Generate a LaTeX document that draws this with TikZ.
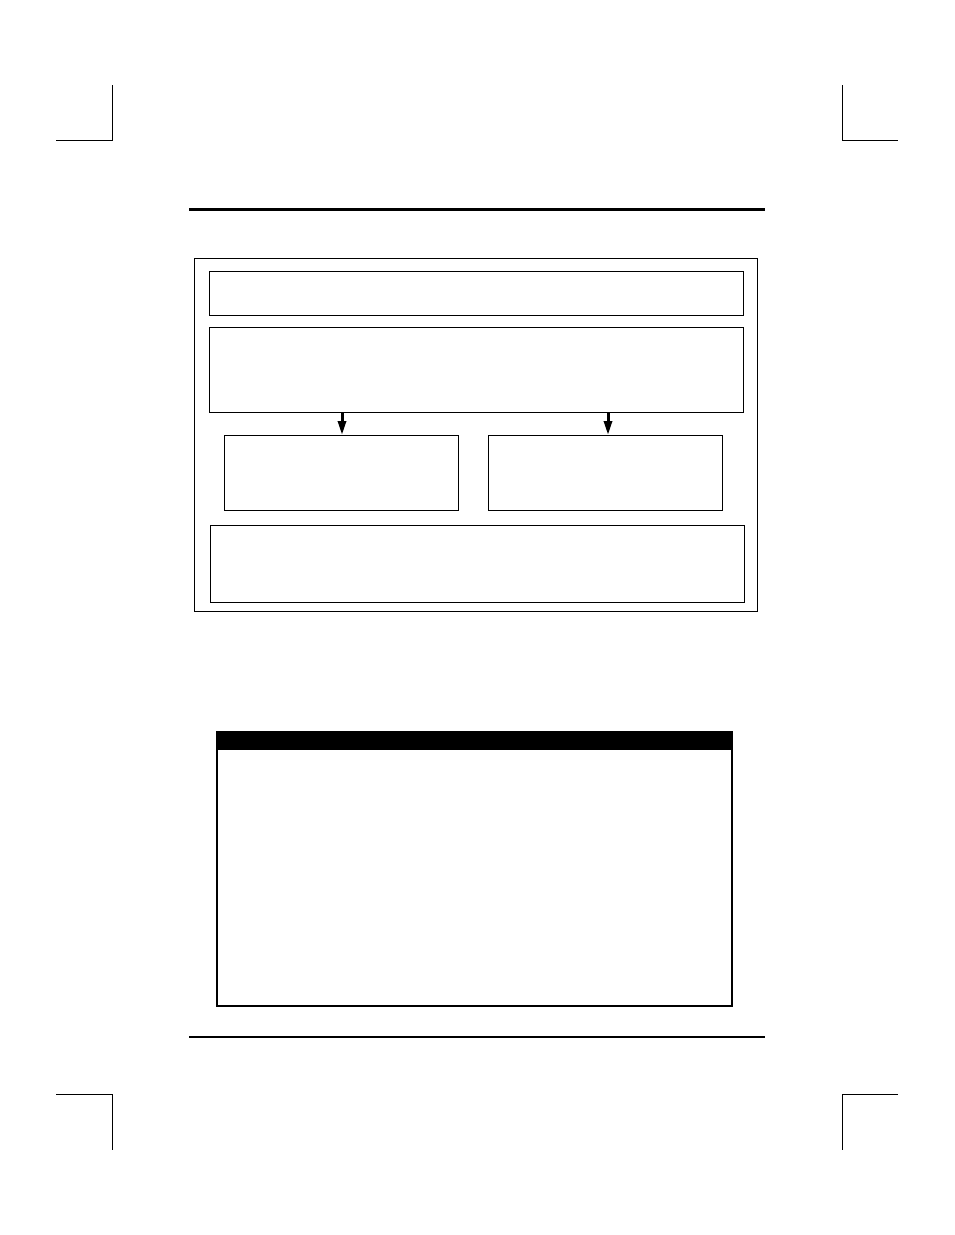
\documentclass[tikz,border=0pt]{standalone}
\usetikzlibrary{arrows.meta}
\begin{document}
\begin{tikzpicture}[x=1pt,y=-1pt,
  box/.style={draw=black,line width=1pt,inner sep=0pt,outer sep=0pt,fill=white},
  frame/.style={draw=black,line width=1pt,inner sep=0pt,outer sep=0pt},
  arr/.style={line width=3pt,-{Triangle[length=14pt,width=8pt]}},
  cropline/.style={line width=0.9pt},
  rule/.style={line width=2.5pt}]
\useasboundingbox[fill=white] (0,0) rectangle (954,1235);
% crop marks
\draw[cropline] (112,85) -- (112,140) -- (56,140);
\draw[cropline] (842,85) -- (842,140) -- (898,140);
\draw[cropline] (56,1094) -- (112,1094) -- (112,1150);
\draw[cropline] (898,1094) -- (842,1094) -- (842,1150);
% rules
\draw[rule] (189,209.5) -- (765,209.5);
\draw[line width=2pt] (189,1037) -- (765,1037);
% diagram
\node[frame,minimum width=563pt,minimum height=353pt] (outer) at (475.5,434.5) {};
\node[box,minimum width=534pt,minimum height=44pt] (b1) at (476,293) {};
\node[box,minimum width=534pt,minimum height=85pt] (b2) at (476,369.5) {};
\node[box,minimum width=234pt,minimum height=75pt] (b3) at (341,472.5) {};
\node[box,minimum width=234pt,minimum height=75pt] (b4) at (605,472.5) {};
\node[box,minimum width=534pt,minimum height=77pt] (b5) at (477,563.5) {};
\draw[arr] ([xshift=1pt]b3.north |- b2.south) -- ([xshift=1pt]b3.north);
\draw[arr] ([xshift=3pt]b4.north |- b2.south) -- ([xshift=3pt]b4.north);
% table
\node[frame,line width=1.5pt,minimum width=515pt,minimum height=274pt] (tab) at (474.5,869) {};
\node[fill=black,inner sep=0pt,outer sep=0pt,minimum width=515pt,minimum height=18pt,anchor=north] (head) at (tab.north) {};
\end{tikzpicture}
\end{document}
